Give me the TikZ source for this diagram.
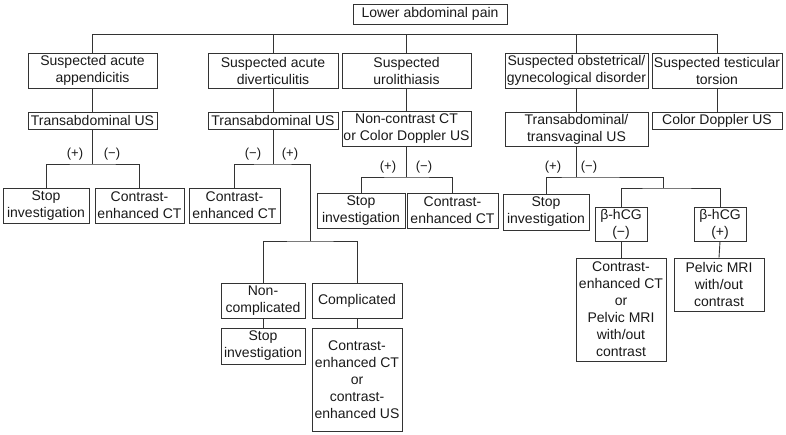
\documentclass[tikz,border=0pt]{standalone}
\usepackage{fontspec}
\setmainfont{Liberation Sans}

\begin{document}
\begin{tikzpicture}[x=1pt, y=-1pt
    , box/.style = {rectangle,draw=black!80,line width=0.9pt,align=center,inner sep=0pt,
                    text=black!90,font=\fontsize{14}{17}\selectfont}
    , sz/.style 2 args = {minimum width=#1pt,minimum height=#2pt}
    , sign/.style = {inner sep=0pt,text=black!90,font=\fontsize{13}{15}\selectfont}
    , link/.style = {draw=black!80,line width=0.9pt}
]
\useasboundingbox (0,0) rectangle (786,435);
% top
\node[box,sz={154}{20}] (pain) at (430,14) {Lower abdominal pain};
\node[box,sz={129}{35}] (app)  at (92.5,70.5) {Suspected acute\\appendicitis};
\node[box,sz={130}{35}] (div)  at (273,70.5)  {Suspected acute\\diverticulitis};
\node[box,sz={129}{35}] (uro)  at (406.5,70.5) {Suspected\\urolithiasis};
\node[box,sz={143}{35}] (obs)  at (576.5,70.5) {Suspected obstetrical/\\gynecological disorder};
\node[box,sz={130}{35}] (test) at (717,70.5)  {Suspected testicular\\torsion};
\draw[link] (app.north) -- ++(0,-18) -| (test.north);
\foreach \n in {div, uro, obs}
    \draw[link] (\n.north) -- ++(0,-18);
% first exams
\node[box,sz={129}{17}] (appus)  at (92.5,120.5) {Transabdominal US};
\node[box,sz={130}{17}] (divus)  at (273,120.5)  {Transabdominal US};
\node[box,sz={129}{35}] (urous)  at (406.5,128.5) {Non-contrast CT\\or Color Doppler US};
\node[box,sz={143}{34}] (obsus)  at (576.5,129)  {Transabdominal/\\transvaginal US};
\node[box,sz={130}{17}] (testus) at (717,120.5)  {Color Doppler US};
\foreach \n in {app, div, uro, obs, test}
    \draw[link] (\n.south) -- (\n us.north);
% appendicitis
\node[box,sz={86}{35}] (stopA) at (46,205.5)    {Stop\\investigation};
\node[box,sz={89}{35}] (ctA)   at (139.5,205.5) {Contrast-\\enhanced CT};
\coordinate (brA) at (92.5,164);
\draw[link] (appus.south) -- (brA);
\draw[link] (stopA.north) |- (brA) -| (ctA.north);
\node[sign] at (75,154)  {(+)};
\node[sign] at (112,154) {(−)};
% diverticulitis
\node[box,sz={91}{35}]  (ctD)     at (234.5,205.5) {Contrast-\\enhanced CT};
\node[box,sz={84}{35}]  (noncomp) at (263,300.5)   {Non-\\complicated};
\node[box,sz={90}{35}]  (comp)    at (357,300.5)   {Complicated};
\node[box,sz={84}{36}]  (stopD)   at (263,346)     {Stop\\investigation};
\node[box,sz={90}{103}] (ctusD)   at (357,379.5)   {Contrast-\\enhanced CT\\or\\contrast-\\enhanced US};
\coordinate (brD) at (273,164);
\coordinate (brD2) at (310,241);
\draw[link] (divus.south) -- (brD);
\draw[link] (ctD.north) |- (brD) -| (brD2);
\draw[link] (noncomp.north) |- (brD2) -| (comp.north);
\draw[link] (noncomp.south) -- (stopD.north);
\draw[link] (comp.south) -- (ctusD.north);
\node[sign] at (253,154) {(−)};
\node[sign] at (290,154) {(+)};
% urolithiasis
\node[box,sz={88}{35}] (stopU) at (361,210.5)   {Stop\\investigation};
\node[box,sz={91}{35}] (ctU)   at (452.5,210.5) {Contrast-\\enhanced CT};
\coordinate (brU) at (406.5,177);
\draw[link] (urous.south) -- (brU);
\draw[link] (stopU.north) |- (brU) -| (ctU.north);
\node[sign] at (388,167) {(+)};
\node[sign] at (424,167) {(−)};
% obstetrical / gynecological
\node[box,sz={86}{36}]  (stopO) at (546,212) {Stop\\investigation};
\node[box,sz={52}{34}]  (hcgN)  at (621,224) {β-hCG\\(−)};
\node[box,sz={52}{34}]  (hcgP)  at (720,224) {β-hCG\\(+)};
\node[box,sz={90}{103}] (ctmri) at (621,309.5) {Contrast-\\enhanced CT\\or\\Pelvic MRI\\with/out\\contrast};
\node[box,sz={90}{53}]  (mri)   at (719,284.5) {Pelvic MRI\\with/out\\contrast};
\coordinate (brO) at (576.5,177);
\coordinate (brO2) at (663,188);
\draw[link] (obsus.south) -- (brO);
\draw[link] (stopO.north) |- (brO) -| (brO2);
\draw[link] (hcgN.north) |- (brO2) -| (hcgP.north);
\draw[link] (hcgN.south) -- (ctmri.north);
\draw[link] (hcgP.south) -- (mri.north);
\node[sign] at (553,167) {(+)};
\node[sign] at (589,167) {(−)};
\end{tikzpicture}
\end{document}
